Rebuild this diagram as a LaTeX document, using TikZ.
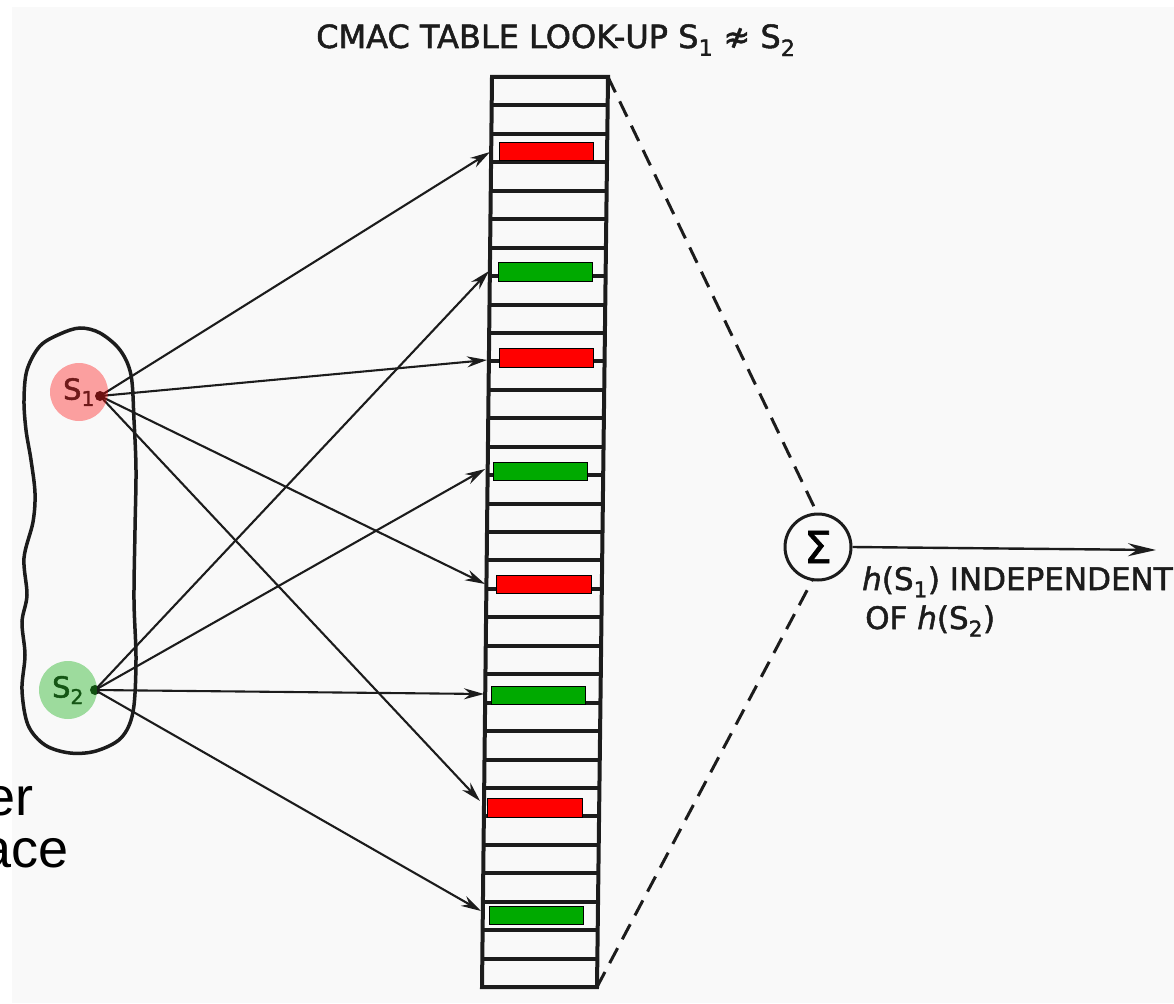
\documentclass[tikz,border=0pt]{standalone}
\usepackage{fontspec}
\setmainfont{DejaVu Sans}
\newfontfamily\lett[FakeBold=1.6]{DejaVu Sans}
\newfontfamily\arialf{Liberation Sans}
\usetikzlibrary{arrows.meta}
\definecolor{paper}{RGB}{249,249,249}
\definecolor{cellred}{RGB}{255,0,0}
\definecolor{cellgreen}{RGB}{0,170,0}
\definecolor{ink}{RGB}{28,28,28}
\begin{document}
\begin{tikzpicture}[x=1pt,y=-1pt,
  tbl/.style={line width=4pt, draw=ink},
  conn/.style={line width=2.1pt, draw=ink, -{Stealth[length=20pt,width=11pt]}},
  dsh/.style={line width=3pt, draw=ink, dash pattern=on 17pt off 10pt},
  redcell/.style={draw=black, line width=0.9pt, fill=cellred},
  greencell/.style={draw=black, line width=0.9pt, fill=cellgreen},
  letter/.style={text=ink, inner sep=0pt},
  blob/.style={line width=3.5pt, draw=ink},
  dotst/.style={circle, fill=ink, inner sep=0pt, minimum size=10pt}
]
\useasboundingbox (0,0) rectangle (1174,1003);
\fill[white] (0,0) rectangle (1174,1003);
\fill[paper] (12,7) rectangle (1174,1003);

% title
\node[letter, anchor=base west, font=\lett\fontsize{32}{34}\selectfont] (title) at (316,48) {CMAC TABLE LOOK-UP S\textsubscript{1} ≉ S\textsubscript{2}};

% table (slightly skewed)
\coordinate (ttl) at (492,77);
\coordinate (ttr) at (608,77);
\coordinate (tbl) at (482,987);
\coordinate (tbr) at (597,987);
\draw[tbl, line join=miter] (ttl) -- (ttr) -- (tbr) -- (tbl) -- cycle;
\foreach \i in {1,...,31}{
  \pgfmathsetmacro\yy{77+\i*28.44}
  \pgfmathsetmacro\xl{492-10*\i/32}
  \pgfmathsetmacro\xr{608-11*\i/32}
  \draw[tbl] (\xl,\yy) -- (\xr,\yy);
}

% coloured cells
\draw[redcell]   (499,142) rectangle (593,160);
\draw[greencell] (498,262) rectangle (592,281);
\draw[redcell]   (499,348) rectangle (593,367);
\draw[greencell] (493,462) rectangle (587,480);
\draw[redcell]   (496,575) rectangle (591,593);
\draw[greencell] (491,686) rectangle (585,704);
\draw[redcell]   (487,798) rectangle (582,817);
\draw[greencell] (489,906) rectangle (583,924);

% blob
\draw[blob] plot[smooth cycle, tension=0.55] coordinates {
  (27,370) (40,346) (60,334) (80,328) (100,333) (120,350) (131,375)
  (134,420) (136,470) (135,530) (134,600) (136,660) (133,712) (121,738)
  (96,751) (70,753) (45,745) (28,725) (22,690) (25,655) (22,622) (27,595)
  (24,558) (33,522) (35,493) (31,460) (26,430) (24,400)};

% source points
\node[dotst] (d1) at (100,396) {};
\node[dotst] (d2) at (95,690) {};

% targets
\coordinate (r1) at (490,152);
\coordinate (r2) at (487,360);
\coordinate (r3) at (485,584);
\coordinate (r4) at (480,801);
\coordinate (g1) at (489,271);
\coordinate (g2) at (485,469);
\coordinate (g3) at (484,694);
\coordinate (g4) at (481,911);

\foreach \t in {r1,r2,r3,r4}{\draw[conn] (d1.center) -- (\t);}
\foreach \t in {g1,g2,g3,g4}{\draw[conn] (d2.center) -- (\t);}

% S1, S2 circles
\node[circle, minimum size=58pt, inner sep=0pt, fill=cellred, fill opacity=0.36,
      text opacity=1, text={rgb,255:red,110;green,25;blue,25},
      font=\lett\fontsize{29}{30}\selectfont] (s1) at (79,392) {S\textsubscript{1}};
\node[circle, minimum size=58pt, inner sep=0pt, fill=cellgreen, fill opacity=0.37,
      text opacity=1, text={rgb,255:red,20;green,85;blue,20},
      font=\lett\fontsize{29}{30}\selectfont] (s2) at (68,690) {S\textsubscript{2}};

% summation
\node[circle, draw=ink, line width=3pt, minimum size=66pt, inner sep=0pt,
      font=\lett\fontsize{44}{44}\selectfont] (sig) at (818,547) {Σ};
\draw[dsh] (ttr) -- (sig.92);
\draw[dsh] (tbr) -- (sig.260);
\coordinate (oute) at (1156,550);
\draw[line width=2.4pt, draw=ink, -{Stealth[length=28pt,width=13pt]}] (sig.east) -- (oute);

\node[letter, anchor=base west, font=\lett\fontsize{31}{32}\selectfont] (lab1) at (862,590) {\textit{h}(S\textsubscript{1}) INDEPENDENT};
\node[letter, anchor=base west, font=\lett\fontsize{31}{32}\selectfont] (lab2) at (865,629) {OF \textit{h}(S\textsubscript{2})};

% cut-off text at left
\node[anchor=base east, inner sep=0pt, font=\arialf\fontsize{54}{52}\selectfont] (t1) at (34,815) {er};
\node[anchor=base east, inner sep=0pt, font=\arialf\fontsize{54}{52}\selectfont] (t2) at (69,867) {ace};
\end{tikzpicture}
\end{document}
